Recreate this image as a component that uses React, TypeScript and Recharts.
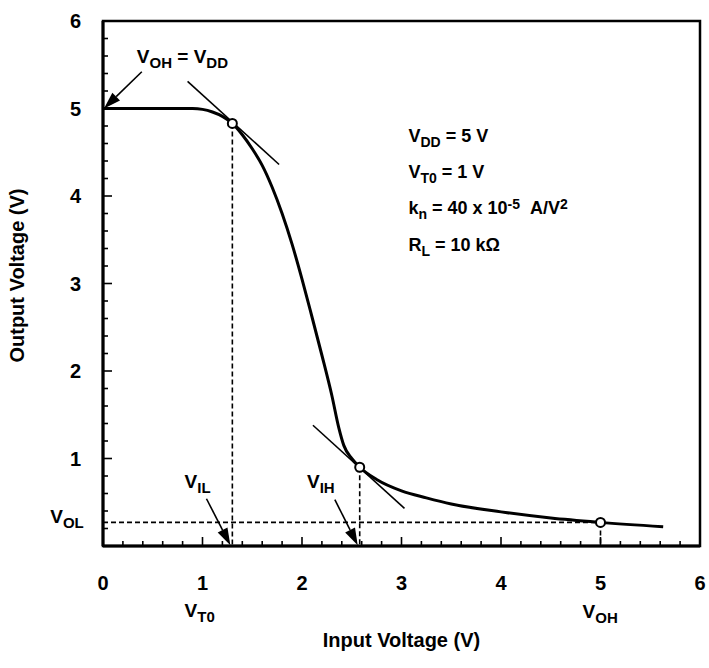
import { ComposedChart, Line, XAxis, YAxis, ReferenceLine, ReferenceDot, ReferenceArea } from 'recharts'

// transfer curve
const vin = [0, 0.5, 0.9, 1.0, 1.1, 1.2, 1.3, 1.4, 1.5, 1.6, 1.7, 1.8, 1.9, 2.0, 2.1, 2.2, 2.3, 2.37, 2.42, 2.5, 2.58, 2.75, 3.0, 3.25, 3.5, 4.0, 4.5, 5.0, 5.63]
const vout = [5.0, 5.0, 5.0, 4.99, 4.96, 4.91, 4.83, 4.7, 4.54, 4.35, 4.1, 3.8, 3.45, 3.05, 2.62, 2.18, 1.72, 1.35, 1.15, 1.0, 0.9, 0.76, 0.63, 0.55, 0.48, 0.39, 0.32, 0.27, 0.22]

const axisTicks = [0, 0.2, 0.4, 0.6, 0.8, 1, 1.2, 1.4, 1.6, 1.8, 2, 2.2, 2.4, 2.6, 2.8, 3, 3.2, 3.4, 3.6, 3.8, 4, 4.2, 4.4, 4.6, 4.8, 5, 5.2, 5.4, 5.6, 5.8, 6]
const xLabels = ['0', '1', '2', '3', '4', '5', '6']
const yLabels = ['', '1', '2', '3', '4', '5', '6']

// critical points: VIL, VIH, VOL
const critX = [1.3, 2.58, 5.0]
const critY = [4.83, 0.9, 0.27]

// tangents with slope -1
const tangents = [
  [[0.85, 5.31], [1.77, 4.36]],
  [[2.11, 1.38], [3.03, 0.43]],
]

const dashed = [
  [[1.3, 4.83], [1.3, 0]],
  [[2.58, 0.9], [2.58, 0]],
  [[5.0, 0.27], [5.0, 0]],
  [[0, 0.27], [5.0, 0.27]],
]

const arrows = [
  [[0.39, 5.42], [0.01, 5.0]],
  [[1.04, 0.54], [1.28, 0.01]],
  [[2.33, 0.53], [2.56, 0.01]],
]

type Part = { t: string; s?: 'sub' | 'sup' }

const notes: { x: number; y: number; parts: Part[]; size?: number }[] = [
  { x: 0.34, y: 5.52, parts: [{ t: 'V' }, { t: 'OH', s: 'sub' }, { t: ' = V' }, { t: 'DD', s: 'sub' }] },
  { x: 3.07, y: 4.62, size: 18, parts: [{ t: 'V' }, { t: 'DD', s: 'sub' }, { t: ' = 5 V' }] },
  { x: 3.07, y: 4.21, size: 18, parts: [{ t: 'V' }, { t: 'T0', s: 'sub' }, { t: ' = 1 V' }] },
  { x: 3.07, y: 3.8, size: 18, parts: [{ t: 'k' }, { t: 'n', s: 'sub' }, { t: ' = 40 x 10' }, { t: '-5', s: 'sup' }, { t: '\u00a0\u00a0A/V' }, { t: '2', s: 'sup' }] },
  { x: 3.07, y: 3.37, size: 18, parts: [{ t: 'R' }, { t: 'L', s: 'sub' }, { t: ' = 10 kΩ' }] },
  { x: 0.82, y: 0.66, parts: [{ t: 'V' }, { t: 'IL', s: 'sub' }] },
  { x: 2.05, y: 0.66, parts: [{ t: 'V' }, { t: 'IH', s: 'sub' }] },
  { x: -0.53, y: 0.26, parts: [{ t: 'V' }, { t: 'OL', s: 'sub' }] },
  { x: 0.82, y: -0.81, parts: [{ t: 'V' }, { t: 'T0', s: 'sub' }] },
  { x: 4.82, y: -0.82, parts: [{ t: 'V' }, { t: 'OH', s: 'sub' }] },
]

const curve = vin.map((x, i) => ({ x, y: vout[i] }))
const FONT = '"Liberation Sans", Arial, Helvetica, sans-serif'
const tickText = { fill: '#000', fontSize: 20, fontWeight: 700, fontFamily: FONT }

function Rich({ x, y, parts, size = 19 }: { x: number; y: number; parts: Part[]; size?: number }) {
  let off = 0
  return (
    <text x={x} y={y} fontFamily={FONT} fontWeight="bold" fontSize={size} fill="#000" style={{ whiteSpace: 'pre' }}>
      {parts.map((p, i) => {
        const target = p.s === 'sub' ? 5 : p.s === 'sup' ? -5 : 0
        const dy = target - off
        off = target
        return (
          <tspan key={i} dy={dy} fontSize={p.s ? size - 4 : size}>
            {p.t}
          </tspan>
        )
      })}
    </text>
  )
}

// inward tick marks, drawn from the reference line's pixel ends
const xMark = (len: number) => (p: any) => {
  const yb = Math.max(p.y1, p.y2)
  return <line x1={p.x1} y1={yb} x2={p.x1} y2={yb - len} stroke="#000" strokeWidth={1.6} />
}
const yMark = (len: number) => (p: any) => {
  const xl = Math.min(p.x1, p.x2)
  return <line x1={xl} y1={p.y1} x2={xl + len} y2={p.y1} stroke="#000" strokeWidth={1.6} />
}

function Arrow(p: any) {
  const { x1, y1, x2, y2 } = p
  const a = Math.atan2(y2 - y1, x2 - x1)
  const len = 17
  const w = 5.5
  const bx = x2 - len * Math.cos(a)
  const by = y2 - len * Math.sin(a)
  const nx = -Math.sin(a) * w
  const ny = Math.cos(a) * w
  return (
    <g>
      <line x1={x1} y1={y1} x2={bx} y2={by} stroke="#000" strokeWidth={1.6} />
      <polygon points={`${x2},${y2} ${bx + nx},${by + ny} ${bx - nx},${by - ny}`} fill="#000" />
    </g>
  )
}

export default function App() {
  return (
    <div style={{ position: 'absolute', left: 0, top: 0, background: '#fff' }}>
      <ComposedChart width={709} height={668} margin={{ top: 21, right: 9, bottom: 0, left: 0 }}>
        <XAxis
          type="number"
          dataKey="x"
          domain={[0, 6]}
          ticks={axisTicks}
          interval={0}
          allowDataOverflow
          height={122}
          tickSize={0}
          tickMargin={30}
          tickLine={false}
          axisLine={{ stroke: '#000', strokeWidth: 3 }}
          tick={tickText}
          tickFormatter={(v: number) => (Number.isInteger(v) ? xLabels[v] : '')}
          label={{
            content: (lp: any) => {
              const vb = lp.viewBox
              return (
                <text x={vb.x + vb.width / 2} y={vb.y + 101} textAnchor="middle" fontFamily={FONT} fontWeight="bold" fontSize={20}>
                  Input Voltage (V)
                </text>
              )
            },
          }}
        />
        <YAxis
          type="number"
          domain={[0, 6]}
          ticks={axisTicks}
          interval={0}
          allowDataOverflow
          width={103}
          tickSize={0}
          tickMargin={22}
          tickLine={false}
          axisLine={{ stroke: '#000', strokeWidth: 3 }}
          tick={tickText}
          tickFormatter={(v: number) => (Number.isInteger(v) ? yLabels[v] : '')}
          label={{
            content: (lp: any) => {
              const vb = lp.viewBox
              const cx = vb.x + 17
              const cy = vb.y + vb.height / 2 - 8
              return (
                <text x={cx} y={cy} transform={`rotate(-90 ${cx} ${cy})`} textAnchor="middle" dominantBaseline="central" fontFamily={FONT} fontWeight="bold" fontSize={20}>
                  Output Voltage (V)
                </text>
              )
            },
          }}
        />
        <ReferenceArea x1={0} x2={6} y1={0} y2={6} fill="none" stroke="#000" strokeWidth={2.5} ifOverflow="visible" />
        {axisTicks.map((v) => (
          <ReferenceLine key={`xt${v}`} x={v} ifOverflow="visible" shape={xMark(Number.isInteger(v) ? 9 : 5)} />
        ))}
        {axisTicks.map((v) => (
          <ReferenceLine key={`yt${v}`} y={v} ifOverflow="visible" shape={yMark(Number.isInteger(v) ? 9 : 5)} />
        ))}
        {dashed.map((s, i) => (
          <ReferenceLine
            key={`d${i}`}
            segment={[{ x: s[0][0], y: s[0][1] }, { x: s[1][0], y: s[1][1] }]}
            stroke="#000"
            strokeWidth={1.6}
            strokeDasharray="5 3"
            ifOverflow="visible"
          />
        ))}
        {tangents.map((s, i) => (
          <ReferenceLine
            key={`t${i}`}
            segment={[{ x: s[0][0], y: s[0][1] }, { x: s[1][0], y: s[1][1] }]}
            stroke="#000"
            strokeWidth={1.6}
            ifOverflow="visible"
          />
        ))}
        <Line data={curve} dataKey="y" type="monotone" stroke="#000" strokeWidth={3} dot={false} activeDot={false} isAnimationActive={false} />
        {arrows.map((s, i) => (
          <ReferenceLine
            key={`a${i}`}
            segment={[{ x: s[0][0], y: s[0][1] }, { x: s[1][0], y: s[1][1] }]}
            ifOverflow="visible"
            shape={Arrow}
          />
        ))}
        {critX.map((x, i) => (
          <ReferenceDot key={`c${i}`} x={x} y={critY[i]} r={4.5} fill="#fff" stroke="#000" strokeWidth={2} ifOverflow="visible" />
        ))}
        {notes.map((n, i) => (
          <ReferenceDot
            key={`n${i}`}
            x={n.x}
            y={n.y}
            r={0}
            ifOverflow="visible"
            shape={(p: any) => <Rich x={p.cx} y={p.cy} parts={n.parts} size={n.size} />}
          />
        ))}
      </ComposedChart>
    </div>
  )
}
